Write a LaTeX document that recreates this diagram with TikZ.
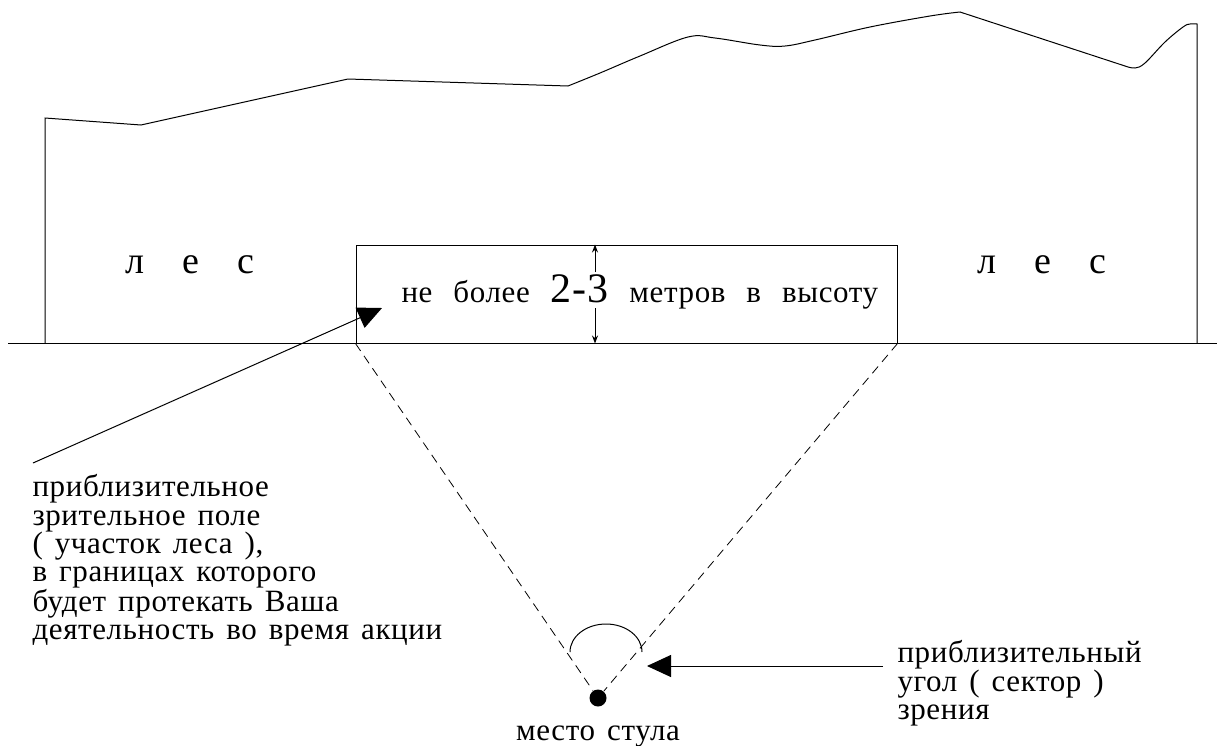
\documentclass[tikz,border=0pt]{standalone}
\usepackage{fontspec}
\setmainfont{Liberation Serif}[LetterSpace=2]
\usetikzlibrary{arrows.meta}
\newcommand\notefont{\fontsize{31}{28.3}\selectfont\spaceskip=12pt plus 2pt\relax}
\newcommand\bigdigits{\fontsize{42}{42}\selectfont}

\begin{document}
\begin{tikzpicture}[x=1pt,y=-1pt,line width=1pt,
	note/.style={align=left,inner sep=0pt,font=\notefont},
	wood/.style={inner sep=0pt,anchor=base,font=\fontsize{38}{40}\selectfont},
	pointer/.style={-{Triangle[length=24pt,width=22pt]}},
	dim/.style={-{Stealth[length=8pt,width=6pt]}},
	view/.style={dashed,dash pattern=on 9pt off 6pt,line width=0.8pt}]
\useasboundingbox (0,0) rectangle (1217,745);
% ground and the forest outline
\draw (8,343) -- (1217,343);
\draw (45,343) -- (45,118) -- (141,125) -- (348,79) -- (568,86)
	-- plot[smooth,tension=0.6] coordinates {(568,86) (600,73) (640,56) (688,37)
	(715,38) (760,45) (785,46) (815,40) (870,27) (930,16) (960,12)}
	-- (1125,66)
	-- plot[smooth,tension=0.6] coordinates {(1125,66) (1135,68) (1145,63) (1165,42)
	(1183,27) (1190,24) (1197,24)}
	-- (1197,343);
\node[wood] (forestL) at (190,273) {л\hspace{38pt}е\hspace{38pt}с};
\node[wood] (forestR) at (1042,273) {л\hspace{38pt}е\hspace{38pt}с};
% the visible strip
\node[draw,minimum width=541pt,minimum height=98pt,inner sep=0pt] (zone) at (626.5,294) {};
\node[note,anchor=base west] (height) at (401,302)
	{не\hspace{21pt}более\hspace{21pt}{\bigdigits 2-3}\hspace{21pt}метров\hspace{21pt}в\hspace{21pt}высоту};
\coordinate (hup) at (595,272);
\coordinate (hdn) at (595,308);
\draw[dim] (hup) -- (hup |- zone.north);
\draw[dim] (hdn) -- (hdn |- zone.south);
% chair and field of view
\node[circle,fill,minimum size=17pt,inner sep=0pt] (chair) at (598,698) {};
\node[note,anchor=base] (seat) at (598,740) {место стула};
\draw[view] (zone.south west) -- (chair);
\draw[view] (zone.south east) -- (chair);
\draw (570,652) arc[start angle=180,end angle=360,x radius=36,y radius=28];
% notes
\coordinate (ptr) at (33,463);
\coordinate (strip) at (382,308);
\draw[pointer] (ptr) -- (strip);
\node[note,anchor=north west] (field) at (32,474) {приблизительное\\зрительное поле\\( участок леса ),\\в границах которого\\будет протекать Ваша\\деятельность во время акции};
\coordinate (tail) at (883,666);
\coordinate (sector) at (647,666);
\node[note,anchor=north west] (angle) at (897,640) {приблизительный\\угол ( сектор )\\зрения};
\draw[pointer] (tail) -- (sector);
\end{tikzpicture}
\end{document}
